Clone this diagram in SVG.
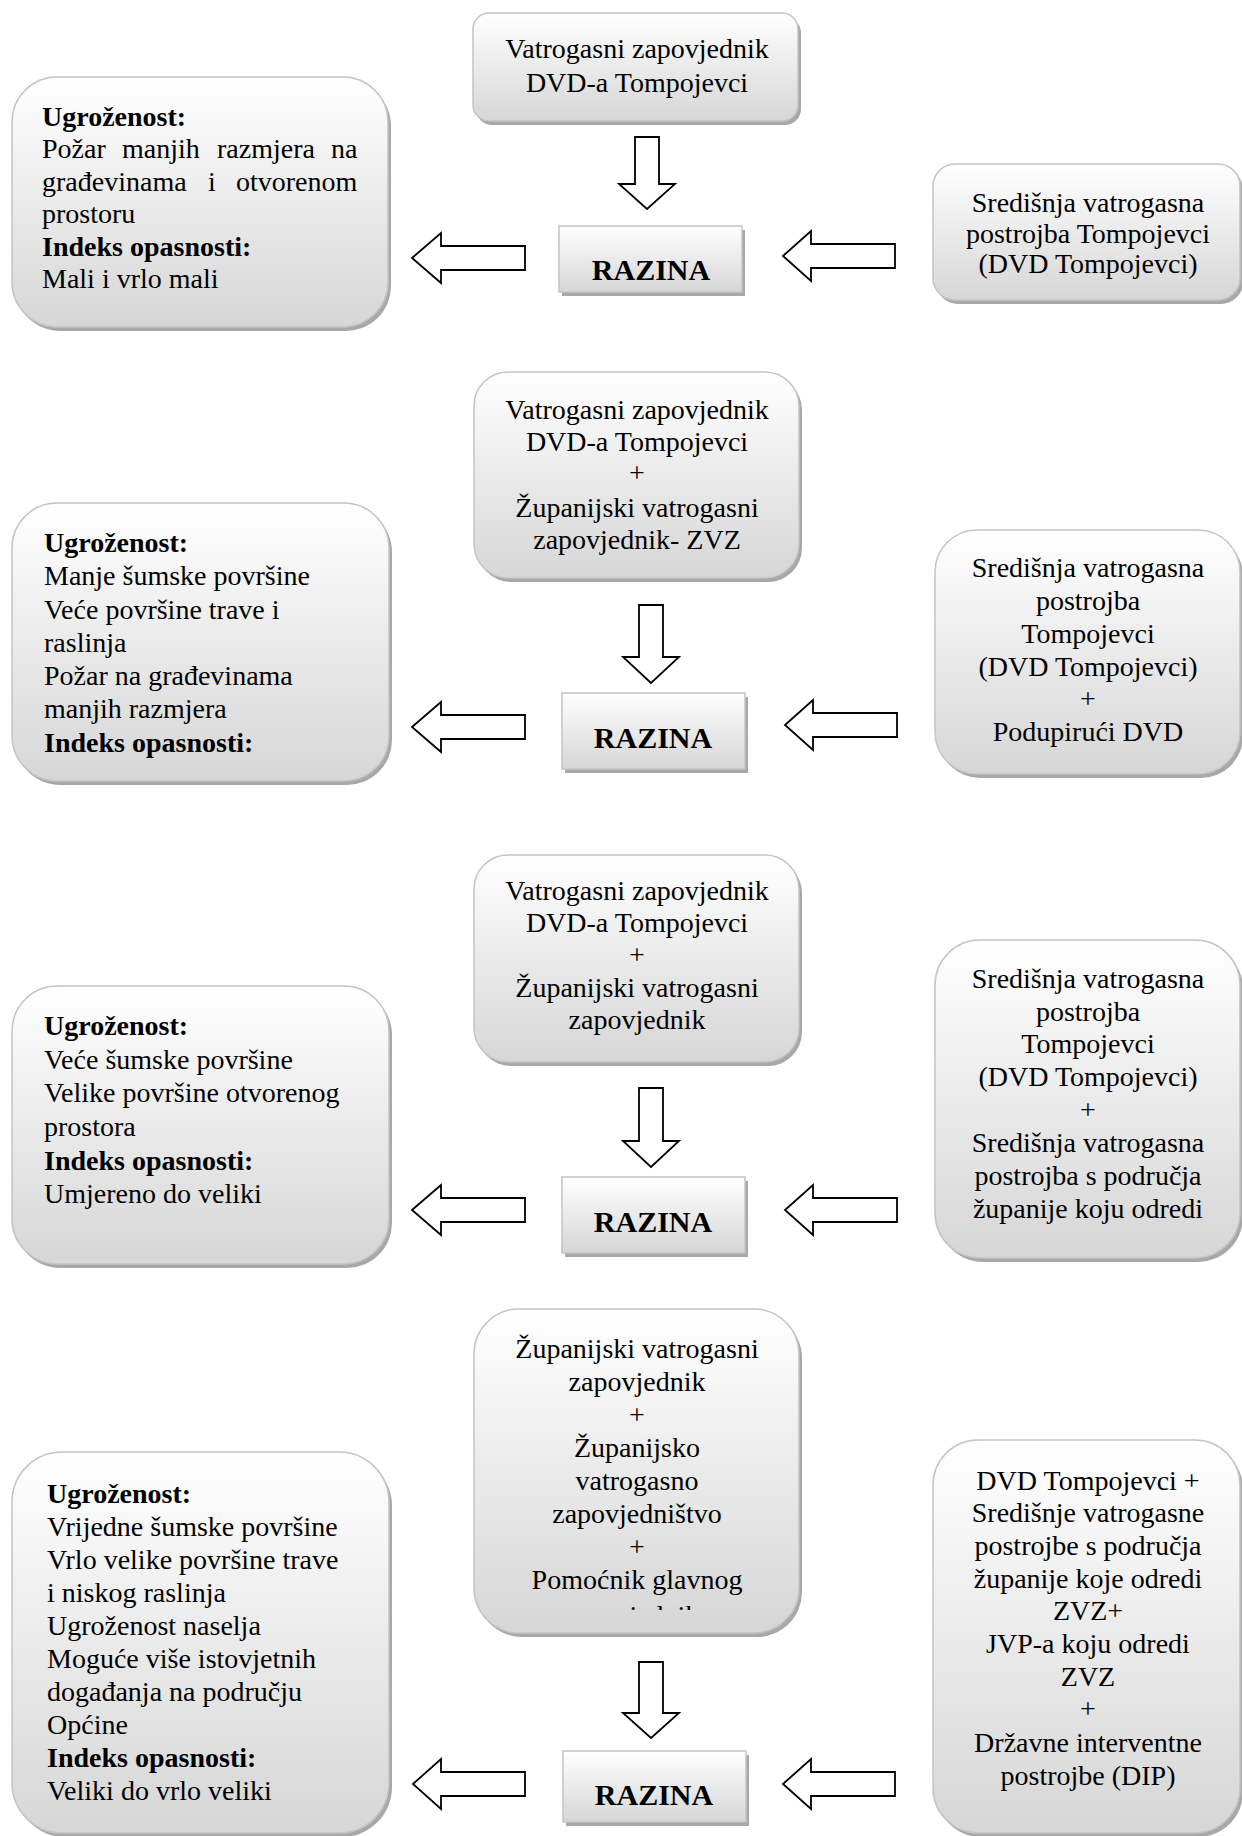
<svg xmlns="http://www.w3.org/2000/svg" width="1242" height="1836" viewBox="0 0 1242 1836">
<defs>
<linearGradient id="g" x1="0" y1="0" x2="0" y2="1">
<stop offset="0" stop-color="#ffffff"/>
<stop offset="1" stop-color="#d6d6d6"/>
</linearGradient>
<clipPath id="clipT4"><rect x="474" y="1300" width="330" height="310"/></clipPath>
<style>
.box{fill:url(#g);stroke:#c4c4c4;stroke-width:1.5}
.sh{fill:#a8a8a8}
.t{font-family:"Liberation Serif","Times New Roman",serif;font-size:28px;fill:#000}
.c{text-anchor:middle}
.b{font-weight:bold}
.lv{font-family:"Liberation Serif","Times New Roman",serif;font-size:30px;font-weight:bold;text-anchor:middle;fill:#000}
.ar{fill:#fff;stroke:#000;stroke-width:1.8;stroke-linejoin:miter}
</style>
</defs>
<rect width="1242" height="1836" fill="#fff"/>

<!-- Section 1 -->
<g id="top1">
<rect class="sh" x="476" y="17" width="325" height="108" rx="16"/>
<rect class="box" x="473" y="13" width="325" height="108" rx="16"/>
<text class="t c" x="637" y="58">Vatrogasni zapovjednik</text>
<text class="t c" x="637" y="92">DVD-a Tompojevci</text>
</g>
<g id="left1">
<rect class="sh" x="15" y="81" width="376" height="250" rx="45"/>
<rect class="box" x="12" y="77" width="376" height="250" rx="45"/>
<text class="t b" x="42" y="126">Ugroženost:</text>
<text class="t" y="158"><tspan x="42">Požar</tspan><tspan x="122">manjih</tspan><tspan x="217">razmjera</tspan><tspan x="331">na</tspan></text>
<text class="t" y="191"><tspan x="42">građevinama</tspan><tspan x="208">i</tspan><tspan x="236">otvorenom</tspan></text>
<text class="t" x="42" y="223">prostoru</text>
<text class="t b" x="42" y="256">Indeks opasnosti:</text>
<text class="t" x="42" y="288">Mali i vrlo mali</text>
</g>
<g id="right1">
<rect class="sh" x="936" y="168" width="307" height="136" rx="22"/>
<rect class="box" x="933" y="164" width="307" height="136" rx="22"/>
<text class="t c" x="1088" y="212">Središnja vatrogasna</text>
<text class="t c" x="1088" y="243">postrojba Tompojevci</text>
<text class="t c" x="1088" y="273">(DVD Tompojevci)</text>
</g>
<g id="level1">
<rect class="sh" x="562" y="230" width="183" height="66"/>
<rect class="box" x="559" y="226" width="183" height="66"/>
<text class="lv" x="651" y="280">RAZINA</text>
</g>

<!-- Section 2 -->
<g id="top2">
<rect class="sh" x="477" y="376" width="325" height="206" rx="34"/>
<rect class="box" x="474" y="372" width="325" height="206" rx="34"/>
<text class="t c" x="637" y="419">Vatrogasni zapovjednik</text>
<text class="t c" x="637" y="451">DVD-a Tompojevci</text>
<text class="t c" x="637" y="482">+</text>
<text class="t c" x="637" y="517">Županijski vatrogasni</text>
<text class="t c" x="637" y="549">zapovjednik- ZVZ</text>
</g>
<g id="left2">
<rect class="sh" x="15" y="507" width="377" height="278" rx="45"/>
<rect class="box" x="12" y="503" width="377" height="278" rx="45"/>
<text class="t b" x="44" y="552">Ugroženost:</text>
<text class="t" x="44" y="585">Manje šumske površine</text>
<text class="t" x="44" y="619">Veće površine trave i</text>
<text class="t" x="44" y="652">raslinja</text>
<text class="t" x="44" y="685">Požar na građevinama</text>
<text class="t" x="44" y="718">manjih razmjera</text>
<text class="t b" x="44" y="752">Indeks opasnosti:</text>
</g>
<g id="right2">
<rect class="sh" x="938" y="534" width="305" height="244" rx="42"/>
<rect class="box" x="935" y="530" width="305" height="244" rx="42"/>
<text class="t c" x="1088" y="577">Središnja vatrogasna</text>
<text class="t c" x="1088" y="610">postrojba</text>
<text class="t c" x="1088" y="643">Tompojevci</text>
<text class="t c" x="1088" y="676">(DVD Tompojevci)</text>
<text class="t c" x="1088" y="708">+</text>
<text class="t c" x="1088" y="741">Podupirući DVD</text>
</g>
<g id="level2">
<rect class="sh" x="565" y="697" width="183" height="76"/>
<rect class="box" x="562" y="693" width="183" height="76"/>
<text class="lv" x="653" y="748">RAZINA</text>
</g>

<!-- Section 3 -->
<g id="top3">
<rect class="sh" x="477" y="859" width="325" height="207" rx="34"/>
<rect class="box" x="474" y="855" width="325" height="207" rx="34"/>
<text class="t c" x="637" y="900">Vatrogasni zapovjednik</text>
<text class="t c" x="637" y="932">DVD-a Tompojevci</text>
<text class="t c" x="637" y="964">+</text>
<text class="t c" x="637" y="997">Županijski vatrogasni</text>
<text class="t c" x="637" y="1029">zapovjednik</text>
</g>
<g id="left3">
<rect class="sh" x="15" y="990" width="377" height="278" rx="45"/>
<rect class="box" x="12" y="986" width="377" height="278" rx="45"/>
<text class="t b" x="44" y="1035">Ugroženost:</text>
<text class="t" x="44" y="1069">Veće šumske površine</text>
<text class="t" x="44" y="1102">Velike površine otvorenog</text>
<text class="t" x="44" y="1136">prostora</text>
<text class="t b" x="44" y="1170">Indeks opasnosti:</text>
<text class="t" x="44" y="1203">Umjereno do veliki</text>
</g>
<g id="right3">
<rect class="sh" x="938" y="944" width="305" height="318" rx="45"/>
<rect class="box" x="935" y="940" width="305" height="318" rx="45"/>
<text class="t c" x="1088" y="988">Središnja vatrogasna</text>
<text class="t c" x="1088" y="1021">postrojba</text>
<text class="t c" x="1088" y="1053">Tompojevci</text>
<text class="t c" x="1088" y="1086">(DVD Tompojevci)</text>
<text class="t c" x="1088" y="1119">+</text>
<text class="t c" x="1088" y="1152">Središnja vatrogasna</text>
<text class="t c" x="1088" y="1185">postrojba s područja</text>
<text class="t c" x="1088" y="1218">županije koju odredi</text>
</g>
<g id="level3">
<rect class="sh" x="565" y="1181" width="183" height="76"/>
<rect class="box" x="562" y="1177" width="183" height="76"/>
<text class="lv" x="653" y="1232">RAZINA</text>
</g>

<!-- Section 4 -->
<g id="top4">
<rect class="sh" x="477" y="1313" width="325" height="324" rx="45"/>
<rect class="box" x="474" y="1309" width="325" height="324" rx="45"/>
<text class="t c" x="637" y="1358">Županijski vatrogasni</text>
<text class="t c" x="637" y="1391">zapovjednik</text>
<text class="t c" x="637" y="1424">+</text>
<text class="t c" x="637" y="1457">Županijsko</text>
<text class="t c" x="637" y="1490">vatrogasno</text>
<text class="t c" x="637" y="1523">zapovjedništvo</text>
<text class="t c" x="637" y="1556">+</text>
<text class="t c" x="637" y="1589">Pomoćnik glavnog</text>
<text class="t c" x="637" y="1625" clip-path="url(#clipT4)">zapovjednika</text>
</g>
<g id="left4">
<rect class="sh" x="15" y="1456" width="377" height="381" rx="50"/>
<rect class="box" x="12" y="1452" width="377" height="381" rx="50"/>
<text class="t b" x="47" y="1503">Ugroženost:</text>
<text class="t" x="47" y="1536">Vrijedne šumske površine</text>
<text class="t" x="47" y="1569">Vrlo velike površine trave</text>
<text class="t" x="47" y="1602">i niskog raslinja</text>
<text class="t" x="47" y="1635">Ugroženost naselja</text>
<text class="t" x="47" y="1668">Moguće više istovjetnih</text>
<text class="t" x="47" y="1701">događanja na području</text>
<text class="t" x="47" y="1734">Općine</text>
<text class="t b" x="47" y="1767">Indeks opasnosti:</text>
<text class="t" x="47" y="1800">Veliki do vrlo veliki</text>
</g>
<g id="right4">
<rect class="sh" x="936" y="1444" width="307" height="393" rx="45"/>
<rect class="box" x="933" y="1440" width="307" height="393" rx="45"/>
<text class="t c" x="1088" y="1490">DVD Tompojevci +</text>
<text class="t c" x="1088" y="1522">Središnje vatrogasne</text>
<text class="t c" x="1088" y="1555">postrojbe s područja</text>
<text class="t c" x="1088" y="1588">županije koje odredi</text>
<text class="t c" x="1088" y="1620">ZVZ+</text>
<text class="t c" x="1088" y="1653">JVP-a koju odredi</text>
<text class="t c" x="1088" y="1686">ZVZ</text>
<text class="t c" x="1088" y="1718">+</text>
<text class="t c" x="1088" y="1752">Državne interventne</text>
<text class="t c" x="1088" y="1785">postrojbe (DIP)</text>
</g>
<g id="level4">
<rect class="sh" x="566" y="1755" width="183" height="71"/>
<rect class="box" x="563" y="1751" width="183" height="71"/>
<text class="lv" x="654" y="1805">RAZINA</text>
</g>

<g id="connectors">
<!-- section 1 -->
<path class="ar" d="M635,137 H659 V184 H675 L647,209 L619,184 H635 Z"/>
<path class="ar" d="M412,258 L441,233 V246 H525 V270 H441 V283 Z"/>
<path class="ar" d="M783,256 L811,231 V244 H895 V268 H811 V281 Z"/>
<!-- section 2 -->
<path class="ar" d="M639,605 H663 V657 H679 L651,683 L623,657 H639 Z"/>
<path class="ar" d="M412,727 L441,702 V715 H525 V739 H441 V752 Z"/>
<path class="ar" d="M785,725 L813,700 V713 H897 V737 H813 V750 Z"/>
<!-- section 3 -->
<path class="ar" d="M639,1088 H663 V1141 H679 L651,1167 L623,1141 H639 Z"/>
<path class="ar" d="M412,1210 L441,1185 V1198 H525 V1222 H441 V1235 Z"/>
<path class="ar" d="M785,1210 L813,1185 V1198 H897 V1222 H813 V1235 Z"/>
<!-- section 4 -->
<path class="ar" d="M639,1662 H663 V1713 H679 L651,1738 L623,1713 H639 Z"/>
<path class="ar" d="M413,1784 L441,1759 V1772 H525 V1796 H441 V1809 Z"/>
<path class="ar" d="M783,1784 L811,1759 V1772 H895 V1796 H811 V1809 Z"/>
</g>
</svg>
